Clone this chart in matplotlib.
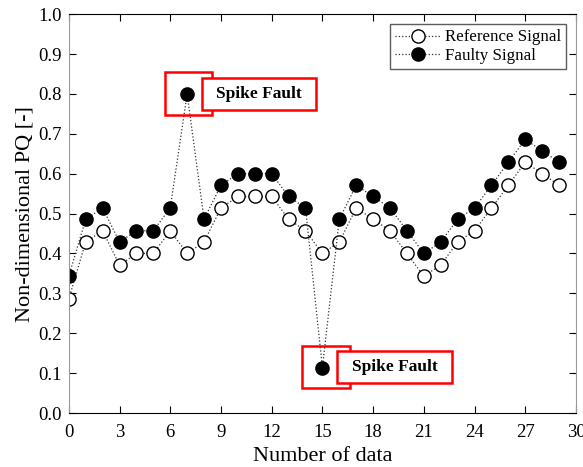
import numpy as np
import matplotlib.pyplot as plt
from matplotlib.patches import Rectangle

plt.rcParams['font.family'] = ['Liberation Serif', 'DejaVu Serif']

x = np.arange(30)
reference = [0.286, 0.429, 0.457, 0.371, 0.400, 0.400, 0.457, 0.400, 0.429, 0.514,
             0.543, 0.543, 0.543, 0.486, 0.457, 0.400, 0.429, 0.514, 0.486, 0.457,
             0.400, 0.343, 0.371, 0.429, 0.457, 0.514, 0.571, 0.629, 0.600, 0.571]
faulty = [0.343, 0.486, 0.514, 0.429, 0.457, 0.457, 0.514, 0.800, 0.486, 0.571,
          0.600, 0.600, 0.600, 0.543, 0.514, 0.114, 0.486, 0.571, 0.543, 0.514,
          0.457, 0.400, 0.429, 0.486, 0.514, 0.571, 0.629, 0.686, 0.657, 0.629]
spikes = [7, 15]

fig = plt.figure(figsize=(5.83, 4.67), dpi=100)
ax = fig.add_axes([0.118, 0.1156, 0.870, 0.854])

ax.plot(x, reference, ':', color='#333333', lw=0.9, marker='o', ms=9.5,
        mfc='white', mec='black', mew=1.0, label='Reference Signal')
ax.plot(x, faulty, ':', color='#333333', lw=0.9, marker='o', ms=9.5,
        mfc='black', mec='black', label='Faulty Signal')

# spike annotations
boxes = {7: ((5.68, 0.747), 2.78, 0.108, (7.87, 0.76), 6.73, 0.08),
         15: ((13.79, 0.063), 2.84, 0.105, (15.86, 0.075), 6.8, 0.08)}
for s in spikes:
    p1, w1, h1, p2, w2, h2 = boxes[s]
    ax.add_patch(Rectangle(p1, w1, h1, fill=False, ec='red', lw=1.8, zorder=4))
    ax.add_patch(Rectangle(p2, w2, h2, fc='white', ec='red', lw=1.8, zorder=5))
    ax.text(p2[0] + w2 / 2, p2[1] + h2 / 2, 'Spike Fault', ha='center', va='center',
            fontsize=12.5, fontweight='bold', zorder=6)

ax.set_xlim(0, 30)
ax.set_ylim(0, 1.0)
ax.set_xticks(np.arange(0, 31, 3))
ax.set_yticks(np.arange(0, 1.01, 0.1))
ax.set_yticklabels(['%.1f' % v for v in np.arange(0, 1.01, 0.1)])
ax.tick_params(direction='in', top=True, right=True, labelsize=13.5, length=5)
ax.tick_params(axis='x', pad=8)
ax.tick_params(axis='y', pad=5)
for sp in ['left', 'right']:
    ax.spines[sp].set_color('#999999')
ax.set_xlabel('Number of data', fontsize=16, labelpad=4)
ax.set_ylabel('Non-dimensional PQ [-]', fontsize=16, labelpad=3)

leg = ax.legend(loc='upper right', fontsize=12.2, frameon=True, fancybox=False,
                edgecolor='#333333', handlelength=2.6, borderpad=0.3,
                labelspacing=0.15, handletextpad=0.3, borderaxespad=0.6)
leg.get_frame().set_linewidth(1.0)

fig.savefig('out.png', dpi=100)
